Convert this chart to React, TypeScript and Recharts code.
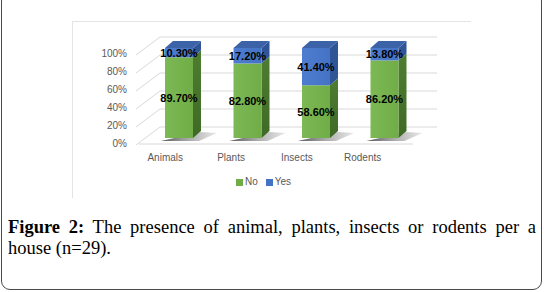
import { BarChart, Bar, XAxis, YAxis, CartesianGrid, LabelList, ReferenceLine } from "recharts";

const categories = ["Animals", "Plants", "Insects", "Rodents"];
const noValues = [89.7, 82.8, 58.6, 86.2];
const yesValues = [10.3, 17.2, 41.4, 13.8];
const yTicks = [0, 20, 40, 60, 80, 100];
const seriesNames = ["No", "Yes"];

const data = categories.map((name, i) => ({
    name,
    No: noValues[i],
    Yes: yesValues[i],
}));

// depth of the fake 3D bars
const DX = 8;
const DY = 7;

const GREEN = "#70ad47";
const GREEN_SIDE = "#4e7d31";
const BLUE = "#4472c4";
const BLUE_SIDE = "#2f5597";
const BLUE_TOP = "#3c63a8";

const axisFont = "'Liberation Sans', Arial, sans-serif";

const side = (x: number, y: number, w: number, h: number) =>
    `${x + w},${y} ${x + w + DX},${y - DY} ${x + w + DX},${y + h - DY} ${x + w},${y + h}`;

const NoShape = (props: any) => {
    const { x, y, width, height } = props;
    const b = y + height;
    return (
        <g>
            <polygon
                points={`${x - 4},${b + 3} ${x + width + 6},${b + 3} ${x + width + 24},${b - 5} ${x + width + DX},${b - 6}`}
                fill="url(#shadowGrad)"
            />
            <polygon points={side(x, y, width, height)} fill="url(#greenSide)" />
            <rect x={x} y={y} width={width} height={height} fill="url(#greenFront)" />
        </g>
    );
};

const YesShape = (props: any) => {
    const { x, y, width, height } = props;
    return (
        <g>
            <polygon points={side(x, y, width, height)} fill={BLUE_SIDE} />
            <rect x={x} y={y} width={width} height={height} fill="url(#blueFront)" />
            <polygon
                points={`${x},${y} ${x + DX},${y - DY} ${x + width + DX},${y - DY} ${x + width},${y}`}
                fill={BLUE_TOP}
            />
        </g>
    );
};

// back wall gridline plus the slanted side-wall line
const GridLine = (props: any) => {
    const { x1, y1, x2, index } = props;
    return (
        <g key={`g-${index}-${y1}`}>
            <line x1={x1 - 9} y1={y1 + 7} x2={x1 + 15} y2={y1 - 11} stroke="#d9d9d9" />
            <line x1={x1 + 15} y1={y1 - 11} x2={x2 + 18} y2={y1 - 11} stroke="#d9d9d9" />
        </g>
    );
};

const Floor = (props: any) => {
    const { x1, y1, x2 } = props;
    return <line x1={x1 - 6} y1={y1 + 6} x2={x2 - 6} y2={y1 + 6} stroke="#d9d9d9" />;
};

const YTick = (props: any) => {
    const { x, y, payload } = props;
    return (
        <text x={x - 10} y={y + 5} dy="0.355em" textAnchor="end" fill="#595959" fontSize={10} fontFamily={axisFont}>
            {`${payload.value}%`}
        </text>
    );
};

const XTick = (props: any) => {
    const { x, y, payload, index } = props;
    return (
        <text x={x - 14 - index * 2.7} y={y + 8} dy="0.71em" textAnchor="middle" fill="#595959" fontSize={10} fontFamily={axisFont}>
            {payload.value}
        </text>
    );
};

const pct = (v: any) => `${Number(v).toFixed(2)}%`;

const labelStyle = {
    fill: "#000",
    fontSize: 11,
    fontWeight: 700,
    fontFamily: axisFont,
};

const App = () => {
    return (
        <div style={{ position: "absolute", left: 0, top: 0, width: 544, height: 292, background: "#fff", overflow: "hidden" }}>
            <div
                style={{
                    position: "absolute",
                    left: 1,
                    top: -8,
                    width: 539,
                    height: 296,
                    border: "1.5px solid #4a4a4a",
                    borderRadius: 9,
                }}
            />
            <div
                style={{
                    position: "absolute",
                    left: 72,
                    top: 21,
                    width: 398,
                    height: 176,
                    borderLeft: "1.5px solid #e4e4e4",
                    borderTop: "1.5px solid #e4e4e4",
                }}
            />
            <div style={{ position: "absolute", left: 0, top: 0 }}>
                <BarChart width={544} height={292} data={data} margin={{ top: 48, right: 125, bottom: 124, left: 85 }} barSize={28}>
                    <defs>
                        <linearGradient id="greenFront" x1="0" y1="0" x2="1" y2="0">
                            <stop offset="0%" stopColor="#7cb955" />
                            <stop offset="100%" stopColor={GREEN} />
                        </linearGradient>
                        <linearGradient id="greenSide" x1="0" y1="0" x2="0" y2="1">
                            <stop offset="0%" stopColor={GREEN_SIDE} />
                            <stop offset="100%" stopColor="#3f6a26" />
                        </linearGradient>
                        <linearGradient id="blueFront" x1="0" y1="0" x2="1" y2="0">
                            <stop offset="0%" stopColor="#4e7dcf" />
                            <stop offset="100%" stopColor={BLUE} />
                        </linearGradient>
                        <linearGradient id="shadowGrad" x1="0" y1="0" x2="1" y2="0">
                            <stop offset="0%" stopColor="#444" stopOpacity={0.9} />
                            <stop offset="100%" stopColor="#888" stopOpacity={0.2} />
                        </linearGradient>
                    </defs>
                    <CartesianGrid vertical={false} horizontal={GridLine} />
                    <XAxis dataKey="name" axisLine={false} tickLine={false} tick={XTick} height={30} interval={0} />
                    <YAxis
                        domain={[0, 100]}
                        ticks={yTicks}
                        interval={0}
                        axisLine={false}
                        tickLine={false}
                        tick={YTick}
                        width={60}
                    />
                    <ReferenceLine y={0} shape={Floor} ifOverflow="visible" />
                    <Bar dataKey={seriesNames[0]} stackId="a" fill={GREEN} shape={NoShape} isAnimationActive={false}>
                        <LabelList dataKey={seriesNames[0]} position="center" formatter={pct} style={labelStyle} />
                    </Bar>
                    <Bar dataKey={seriesNames[1]} stackId="a" fill={BLUE} shape={YesShape} isAnimationActive={false}>
                        <LabelList dataKey={seriesNames[1]} position="center" formatter={pct} style={labelStyle} />
                    </Bar>
                </BarChart>
            </div>
            <div
                style={{
                    position: "absolute",
                    left: 236,
                    top: 175,
                    display: "flex",
                    alignItems: "center",
                    fontFamily: axisFont,
                    fontSize: 10,
                    color: "#595959",
                    lineHeight: "14px",
                }}
            >
                <span style={{ width: 7, height: 7, background: GREEN, display: "inline-block", marginRight: 2 }} />
                <span style={{ marginRight: 8 }}>{seriesNames[0]}</span>
                <span style={{ width: 7, height: 7, background: BLUE, display: "inline-block", marginRight: 2 }} />
                <span>{seriesNames[1]}</span>
            </div>
            <div
                style={{
                    position: "absolute",
                    left: 8,
                    top: 217,
                    width: 528,
                    fontFamily: "'Liberation Serif', 'Times New Roman', serif",
                    fontSize: 18.5,
                    lineHeight: "21px",
                    color: "#000",
                }}
            >
                <div style={{ textAlign: "justify", textAlignLast: "justify", whiteSpace: "nowrap" }}>
                    <b>Figure 2:</b> The presence of animal, plants, insects or rodents per a
                </div>
                <div>house (n=29).</div>
            </div>
        </div>
    );
};

export default App;
